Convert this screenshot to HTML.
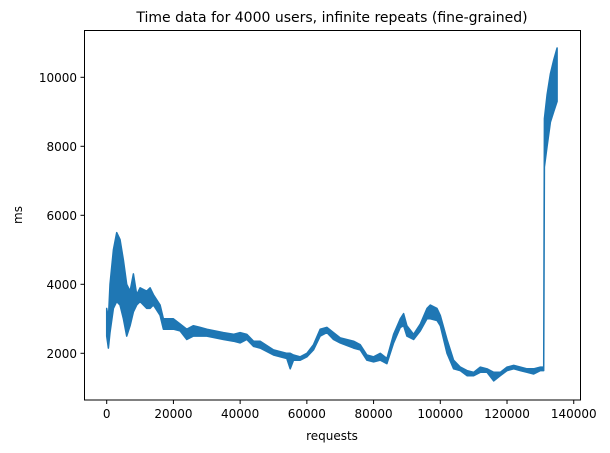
<!DOCTYPE html>
<html><head><meta charset="utf-8"><style>
body{margin:0;background:#fff;}
svg{display:block;font-family:"DejaVu Sans","Liberation Sans",sans-serif;}
</style></head><body>
<svg id="chart" width="610" height="453" viewBox="0 0 610 453">
<text x="332" y="22" text-anchor="middle" font-size="14">Time data for 4000 users, infinite repeats (fine-grained)</text>
<text x="332" y="440" text-anchor="middle" font-size="12">requests</text>
<text transform="translate(22,215) rotate(-90)" text-anchor="middle" font-size="12">ms</text>
<g id="plot"></g>
<rect x="84.5" y="30.5" width="496" height="369.5" fill="none" stroke="#000" stroke-width="1"/>
</svg>
<script>
const requests=[0,500,1000,2000,3000,4000,5000,6000,7000,8000,9000,10000,12000,13000,14000,16000,17000,20000,22000,24000,26000,28000,30000,35000,38000,40000,42000,44000,46000,50000,54000,55000,56000,58000,60000,62000,64000,66000,68000,70000,74000,76000,78000,80000,82000,84000,86000,88000,89000,90000,92000,94000,96000,97000,99000,100000,102000,104000,106000,108000,110000,112000,114000,116000,118000,120000,122000,124000,126000,128000,130000,131000,131200,132000,133000,134000,135000];
const upperMs=[3300,3000,4000,5000,5500,5300,4700,4000,3800,4300,3700,3900,3800,3900,3700,3400,3000,3000,2850,2700,2800,2750,2700,2600,2550,2600,2550,2350,2350,2100,2000,2000,1950,1900,2000,2250,2700,2750,2600,2450,2350,2250,1950,1900,2000,1850,2550,3000,3150,2800,2550,2850,3300,3400,3300,3100,2400,1800,1600,1500,1450,1600,1550,1450,1450,1600,1650,1600,1550,1550,1600,1600,8800,9500,10100,10500,10850];
const lowerMs=[2500,2150,2600,3300,3500,3400,3000,2500,2800,3200,3400,3500,3300,3300,3400,3100,2700,2700,2650,2400,2500,2500,2500,2400,2350,2300,2400,2200,2150,1950,1850,1550,1800,1800,1900,2100,2500,2600,2400,2300,2150,2100,1800,1750,1800,1700,2300,2750,2800,2500,2400,2650,3000,3000,2950,2800,2000,1550,1500,1350,1350,1450,1450,1200,1350,1500,1550,1500,1450,1400,1500,1500,7400,8000,8700,9000,9300];
const xTicks=[0,20000,40000,60000,80000,100000,120000,140000];
const yTicks=[2000,4000,6000,8000,10000];

const NS="http://www.w3.org/2000/svg";
const sx=v=>106.7+v*(333.6/100000);
const sy=v=>353.3-(v-2000)*(276/8000);
const plot=document.getElementById('plot');
const svg=document.getElementById('chart');

let pts=[];
for(let i=0;i<requests.length;i++)pts.push(sx(requests[i]).toFixed(1)+","+sy(upperMs[i]).toFixed(1));
for(let i=requests.length-1;i>=0;i--)pts.push(sx(requests[i]).toFixed(1)+","+sy(lowerMs[i]).toFixed(1));
const band=document.createElementNS(NS,'polygon');


band.setAttribute('points',pts.join(' '));
band.setAttribute('fill','#1f77b4');
band.setAttribute('stroke','#1f77b4');
band.setAttribute('stroke-width','1.5');
band.setAttribute('stroke-linejoin','round');
plot.appendChild(band);

xTicks.forEach(t=>{
  const x=sx(t);
  const l=document.createElementNS(NS,'line');
  
  
  l.setAttribute('x1',x);l.setAttribute('x2',x);l.setAttribute('y1',400);l.setAttribute('y2',404);
  l.setAttribute('stroke','#000');
  svg.appendChild(l);
  const tx=document.createElementNS(NS,'text');
  
  
  tx.setAttribute('x',x);tx.setAttribute('y',418);
  tx.setAttribute('text-anchor','middle');tx.setAttribute('font-size','12');
  tx.textContent=t;
  svg.appendChild(tx);
});
yTicks.forEach(t=>{
  const y=sy(t);
  const l=document.createElementNS(NS,'line');
  
  
  l.setAttribute('x1',80.5);l.setAttribute('x2',84.5);l.setAttribute('y1',y);l.setAttribute('y2',y);
  l.setAttribute('stroke','#000');
  svg.appendChild(l);
  const tx=document.createElementNS(NS,'text');
  
  
  tx.setAttribute('x',77);tx.setAttribute('y',y+4.5);
  tx.setAttribute('text-anchor','end');tx.setAttribute('font-size','12');
  tx.textContent=t;
  svg.appendChild(tx);
});
</script>
</body></html>
